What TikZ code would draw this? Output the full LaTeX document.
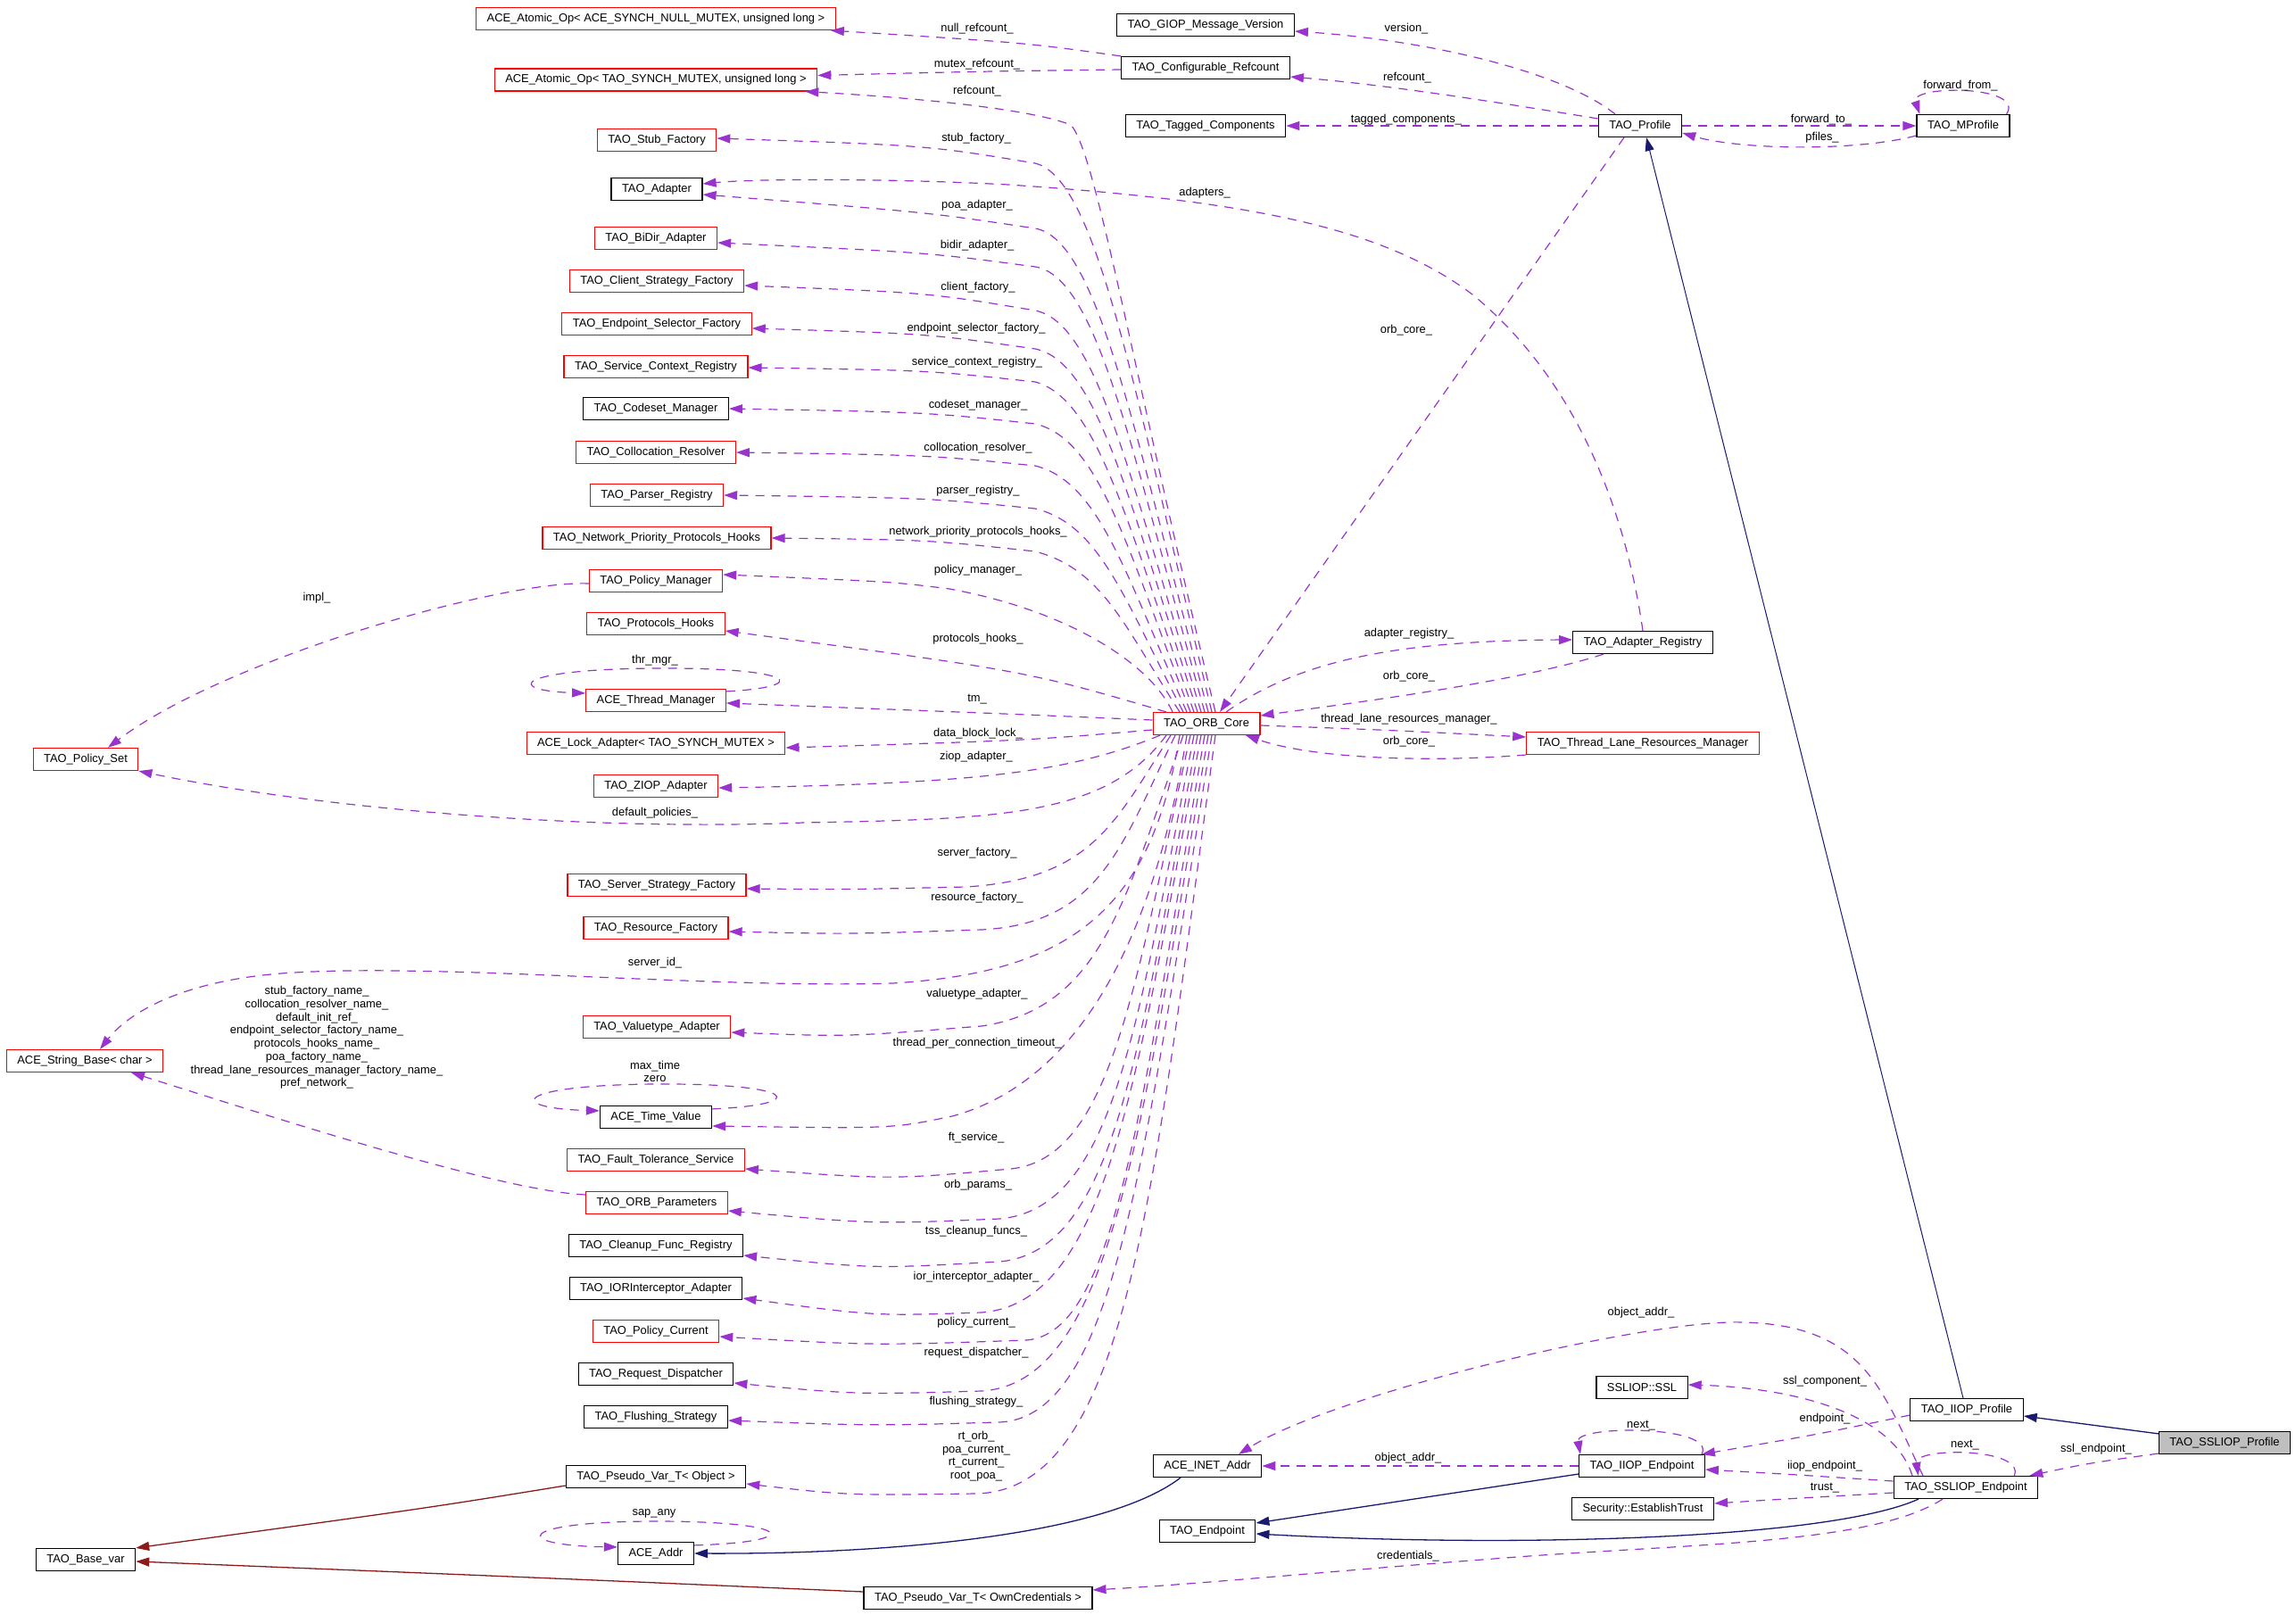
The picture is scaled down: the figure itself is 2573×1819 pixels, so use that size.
\documentclass[tikz,border=0pt]{standalone}
\usepackage{fontspec}
\setmainfont{Liberation Sans}
\usepackage{tikz}
\usetikzlibrary{arrows.meta}
\definecolor{memberc}{HTML}{9A32CD}
\definecolor{inhblue}{HTML}{191970}
\definecolor{privred}{HTML}{8B1A1A}
\definecolor{grey75}{HTML}{BFBFBF}

\begin{document}
\begin{tikzpicture}[x=1pt, y=-1pt,
  class node/.style={draw, rectangle, line width=1.2pt, minimum height=25pt, inner xsep=12pt, inner ysep=0pt, font=\fontsize{12.9}{14.7}\selectfont},
  red node/.style={class node, draw=red},
  mlabel/.style={inner sep=0pt, align=center, font=\fontsize{12.9}{14.7}\selectfont},
  uses/.style={memberc, line width=1.2pt, dash pattern=on 10pt off 8pt, -{Triangle[length=15pt,width=10pt]}},
  inherit/.style={inhblue, line width=1.3pt, -{Triangle[length=15pt,width=10pt]}},
  priv inherit/.style={privred, line width=1.3pt, -{Triangle[length=15pt,width=10pt]}}]
\useasboundingbox (0,0) rectangle (2573,1819);

\node[red node] (atomicnull) at (735,21) {ACE\_Atomic\_Op< ACE\_SYNCH\_NULL\_MUTEX, unsigned long >};
\node[red node] (atomicmutex) at (735,89.5) {ACE\_Atomic\_Op< TAO\_SYNCH\_MUTEX, unsigned long >};
\node[red node] (stubfactory) at (736,157) {TAO\_Stub\_Factory};
\node[class node] (adapter) at (736,212) {TAO\_Adapter};
\node[red node] (bidir) at (735,267) {TAO\_BiDir\_Adapter};
\node[red node] (clientstrat) at (736,315) {TAO\_Client\_Strategy\_Factory};
\node[red node] (epselector) at (736,363) {TAO\_Endpoint\_Selector\_Factory};
\node[red node] (servicectx) at (735,411) {TAO\_Service\_Context\_Registry};
\node[class node] (codeset) at (735,458) {TAO\_Codeset\_Manager};
\node[red node] (colloc) at (735,507) {TAO\_Collocation\_Resolver};
\node[red node] (parser) at (736,555) {TAO\_Parser\_Registry};
\node[red node] (netprio) at (736,603) {TAO\_Network\_Priority\_Protocols\_Hooks};
\node[red node] (policymgr) at (735,651) {TAO\_Policy\_Manager};
\node[red node] (protohooks) at (735,699) {TAO\_Protocols\_Hooks};
\node[red node] (thrmgr) at (735,785) {ACE\_Thread\_Manager};
\node[red node] (lockadapter) at (735,833) {ACE\_Lock\_Adapter< TAO\_SYNCH\_MUTEX >};
\node[red node] (ziop) at (735,881) {TAO\_ZIOP\_Adapter};
\node[red node] (serverstrat) at (736,992) {TAO\_Server\_Strategy\_Factory};
\node[red node] (resfactory) at (735,1040) {TAO\_Resource\_Factory};
\node[red node] (valuetype) at (736,1151) {TAO\_Valuetype\_Adapter};
\node[class node] (timevalue) at (735,1252) {ACE\_Time\_Value};
\node[red node] (faulttol) at (735,1300) {TAO\_Fault\_Tolerance\_Service};
\node[red node] (orbparams) at (736,1348) {TAO\_ORB\_Parameters};
\node[class node] (cleanup) at (735,1396) {TAO\_Cleanup\_Func\_Registry};
\node[class node] (iorinterc) at (735,1444) {TAO\_IORInterceptor\_Adapter};
\node[red node] (policycur) at (735,1492) {TAO\_Policy\_Current};
\node[class node] (reqdisp) at (735,1540) {TAO\_Request\_Dispatcher};
\node[class node] (flushing) at (735,1588) {TAO\_Flushing\_Strategy};
\node[class node] (pseudoobj) at (735,1655) {TAO\_Pseudo\_Var\_T< Object >};
\node[class node] (aceaddr) at (735,1741) {ACE\_Addr};

\node[red node] (policyset) at (96,851) {TAO\_Policy\_Set};
\node[red node] (stringbase) at (95,1189) {ACE\_String\_Base< char >};
\node[class node] (basevar) at (96,1748) {TAO\_Base\_var};

\node[red node] (core) at (1352,811) {TAO\_ORB\_Core};
\node[class node] (giop) at (1351,28) {TAO\_GIOP\_Message\_Version};
\node[class node] (confrefcount) at (1351,76) {TAO\_Configurable\_Refcount};
\node[class node] (tagged) at (1351,141) {TAO\_Tagged\_Components};
\node[class node] (inetaddr) at (1353,1643) {ACE\_INET\_Addr};
\node[class node] (endpoint) at (1353,1716) {TAO\_Endpoint};
\node[class node] (pseudocred) at (1096,1791) {TAO\_Pseudo\_Var\_T< OwnCredentials >};

\node[class node] (profile) at (1838,141) {TAO\_Profile};
\node[class node] (mprofile) at (2200,141) {TAO\_MProfile};
\node[class node] (adapterreg) at (1841,720) {TAO\_Adapter\_Registry};
\node[red node] (tlrm) at (1841,833) {TAO\_Thread\_Lane\_Resources\_Manager};
\node[class node] (sslcomp) at (1840,1555) {SSLIOP::SSL};
\node[class node] (iiopendpoint) at (1840,1643) {TAO\_IIOP\_Endpoint};
\node[class node] (trust) at (1841,1691) {Security::EstablishTrust};
\node[class node] (iiopprofile) at (2204,1580) {TAO\_IIOP\_Profile};
\node[class node] (sslendpoint) at (2203,1667) {TAO\_SSLIOP\_Endpoint};
\node[class node, fill=grey75] (sslprofile) at (2493,1617) {TAO\_SSLIOP\_Profile};

% inheritance
\draw[inherit, line width=1pt] ([xshift=-4pt]iiopprofile.north) -- ([xshift=7pt]profile.south);
\draw[inherit] ([yshift=-3pt]sslprofile.north west) -- ([yshift=-7pt]iiopprofile.east);
\draw[inherit] ([yshift=-9pt]iiopendpoint.west) -- ([yshift=9pt]endpoint.east);
\draw[inherit] ([xshift=-53pt]sslendpoint.south) .. controls (2050,1725) and (1700,1735) .. ([yshift=-3pt]endpoint.east);
\draw[inherit] ([xshift=-30pt]inetaddr.south) .. controls (1240,1720) and (1000,1742) .. (aceaddr.east);
\draw[priv inherit] ([yshift=-10pt]pseudoobj.west) .. controls (480,1690) .. (basevar.north east);
\draw[priv inherit] ([yshift=7pt]pseudocred.west) .. controls (600,1768) .. ([yshift=-2pt]basevar.east);

% members, right part
\draw[uses] ([yshift=-12pt]sslprofile.west) .. controls (2340,1640) .. ([xshift=-10pt]sslendpoint.north east);
\draw[uses] ([yshift=-6pt]iiopprofile.west) .. controls (2040,1607) .. ([xshift=-4pt]iiopendpoint.north east);
\draw[uses] ([xshift=-60pt]sslendpoint.north) .. controls (2120,1580) and (2000,1555) .. ([yshift=3pt]sslcomp.east);
\draw[uses] ([xshift=-48pt]sslendpoint.north) .. controls (2110,1560) and (2090,1485) .. (1953,1482) .. controls (1850,1478) and (1500,1560) .. ([xshift=35pt]inetaddr.north);
\draw[uses] (iiopendpoint.west) -- (inetaddr.east);
\draw[uses] ([yshift=7pt]sslendpoint.west) .. controls (2000,1652) .. ([yshift=-4pt]iiopendpoint.east);
\draw[uses] ([yshift=-6pt]sslendpoint.west) .. controls (2000,1680) .. ([yshift=6pt]trust.east);
\draw[uses] ([xshift=-26pt]sslendpoint.south) .. controls (2100,1730) and (1900,1730) .. (1700,1745) .. controls (1500,1760) and (1350,1775) .. ([yshift=9pt]pseudocred.east);
\draw[uses] ([xshift=-4pt]iiopendpoint.north east) .. controls (1925,1597) and (1765,1597) .. ([xshift=2pt]iiopendpoint.north west);
\draw[uses] ([xshift=-27pt]sslendpoint.north east) .. controls (2270,1622) and (2145,1622) .. ([xshift=28pt]sslendpoint.north west);

\draw[uses] ([xshift=-4pt]mprofile.north east) .. controls (2270,95) and (2140,95) .. ([xshift=4pt]mprofile.north west);
\draw[uses] ([xshift=-28pt]profile.north) .. controls (1750,80) and (1600,45) .. ([yshift=-7pt]giop.east);
\draw[uses] ([yshift=8pt]profile.west) .. controls (1650,110) and (1550,95) .. ([yshift=-10pt]confrefcount.east);
\draw[uses] (profile.west) -- (tagged.east);
\draw[uses] (profile.east) -- (mprofile.west);
\draw[uses] ([yshift=-11pt]mprofile.west) .. controls (2080,170) and (1950,168) .. ([yshift=-8pt]profile.east);
\draw[uses] ([xshift=-18pt]profile.south) -- ([xshift=15pt]core.north);
\draw[uses] (confrefcount.north west) .. controls (1150,48) .. ([xshift=-6pt]atomicnull.south east);
\draw[uses] ([yshift=-2pt]confrefcount.west) .. controls (1100,80) .. ([yshift=5pt]atomicmutex.east);

\draw[uses] (adapterreg.north) .. controls (1820,560) and (1760,420) .. (1650,330) .. controls (1550,255) and (1400,225) .. (1130,207) .. controls (1000,200) and (850,200) .. ([yshift=6pt]adapter.east);
\draw[uses] ([xshift=22pt]core.north) .. controls (1450,745) and (1550,718) .. ([yshift=3pt]adapterreg.west);
\draw[uses] ([xshift=-44pt]adapterreg.south) .. controls (1700,765) and (1500,790) .. ([yshift=9pt]core.east);
\draw[uses] ([yshift=-2pt]core.east) .. controls (1550,818) .. ([yshift=7pt]tlrm.west);
\draw[uses] ([yshift=-13pt]tlrm.west) .. controls (1600,855) and (1470,850) .. ([xshift=44pt]core.south);

% members, left part
\draw[uses] ([yshift=-3pt]policymgr.west) .. controls (560,650) and (250,740) .. ([xshift=25pt]policyset.north);
\draw[uses] ([xshift=-45pt]core.south) .. controls (1240,915) and (1120,918) .. (900,922) .. controls (650,932) and (350,905) .. (policyset.south east);
\draw[uses] ([xshift=-30pt]core.south) .. controls (1290,1020) and (1200,1090) .. (1000,1102) .. controls (800,1108) and (500,1080) .. (330,1090) .. controls (220,1096) and (150,1128) .. ([xshift=17pt]stringbase.north);
\draw[uses] ([yshift=9pt]orbparams.west) .. controls (560,1335) and (300,1250) .. ([xshift=52pt]stringbase.south);
\draw[uses] ([yshift=-3pt]thrmgr.north east) .. controls (910,770) and (895,748) .. (735,749) .. controls (575,750) and (565,774) .. ([yshift=-5pt]thrmgr.north west);
\draw[uses] ([yshift=-4pt]timevalue.north east) .. controls (910,1238) and (895,1214) .. (735,1215) .. controls (575,1216) and (565,1242) .. ([yshift=-6pt]timevalue.north west);
\draw[uses] ([yshift=-4pt]aceaddr.north east) .. controls (905,1728) and (890,1705) .. (735,1705) .. controls (578,1705) and (570,1732) .. ([yshift=-6pt]aceaddr.north west);

\draw[uses] ([xshift=10pt]core.north) .. controls (1268,409) and (1228,170) .. (1200,140) .. controls (1150,120) and (1000,108) .. ([xshift=-14pt]atomicmutex.south east);
\draw[uses] ([xshift=6pt]core.north) .. controls (1271,439) and (1230,200) .. (1160,183) .. controls (1040,163) .. ([yshift=2pt]stubfactory.east);
\draw[uses] ([xshift=2pt]core.north) .. controls (1270,480) and (1230,268) .. (1160,256) .. controls (1040,238) .. ([yshift=-6pt]adapter.east);
\draw[uses] ([xshift=-2pt]core.north) .. controls (1268,505) and (1230,310) .. (1160,299) .. controls (1040,283) .. ([yshift=-5pt]bidir.east);
\draw[uses] ([xshift=-6pt]core.north) .. controls (1266,536) and (1230,362) .. (1160,348) .. controls (1040,328) .. ([yshift=-5pt]clientstrat.east);
\draw[uses] ([xshift=-10pt]core.north) .. controls (1265,562) and (1230,405) .. (1160,391) .. controls (1040,374) .. ([yshift=-5pt]epselector.east);
\draw[uses] ([xshift=-14pt]core.north) .. controls (1263,587) and (1230,447) .. (1160,428) .. controls (1040,415) .. ([yshift=-1pt]servicectx.east);
\draw[uses] ([xshift=-18pt]core.north) .. controls (1263,614) and (1232,492) .. (1160,475) .. controls (1040,462) .. (codeset.east);
\draw[uses] ([xshift=-22pt]core.north) .. controls (1261,643) and (1232,540) .. (1160,522) .. controls (1040,510) .. (colloc.east);
\draw[uses] ([xshift=-26pt]core.north) .. controls (1260,672) and (1233,588) .. (1160,570) .. controls (1040,558) .. (parser.east);
\draw[uses] ([xshift=-30pt]core.north) .. controls (1260,702) and (1236,638) .. (1160,618) .. controls (1040,605) .. (netprio.east);
\draw[uses] ([xshift=-38pt]core.north) .. controls (1290,745) and (1200,685) .. (1064,660) .. controls (1000,652) .. ([yshift=7pt]policymgr.east);
\draw[uses] ([xshift=-45pt]core.north) .. controls (1150,752) .. ([yshift=-8pt]protohooks.east);
\draw[uses] ([yshift=4pt]core.west) .. controls (1128,800) .. ([yshift=-3pt]thrmgr.east);
\draw[uses] ([yshift=-7pt]core.west) .. controls (1150,830) .. ([yshift=-5pt]lockadapter.east);
\draw[uses] ([xshift=-52pt]core.south) .. controls (1200,865) and (1100,878) .. ([yshift=-2pt]ziop.east);

\draw[uses] ([xshift=-40pt]core.south) .. controls (1250,920) and (1225,985) .. (1083,994) .. controls (950,997) .. ([yshift=-4pt]serverstrat.east);
\draw[uses] ([xshift=-35pt]core.south) .. controls (1256,950) and (1232,1035) .. (1100,1042) .. controls (950,1047) .. ([yshift=-4pt]resfactory.east);
\draw[uses] ([xshift=-26pt]core.south) .. controls (1261,1007) and (1235,1130) .. (1100,1150) .. controls (950,1162) .. ([yshift=-6pt]valuetype.east);
\draw[uses] ([xshift=-22pt]core.south) .. controls (1290,1070) and (1200,1215) .. (1067,1251) .. controls (1000,1265) .. ([yshift=-10pt]timevalue.east);
\draw[uses] ([xshift=-18pt]core.south) .. controls (1271,1108) and (1245,1298) .. (1133,1310) .. controls (1000,1322) .. ([yshift=-10pt]faulttol.east);
\draw[uses] ([xshift=-14pt]core.south) .. controls (1275,1142) and (1250,1355) .. (1120,1366) .. controls (980,1372) .. ([yshift=-9pt]orbparams.east);
\draw[uses] ([xshift=-10pt]core.south) .. controls (1277,1171) and (1250,1403) .. (1120,1414) .. controls (980,1422) .. ([yshift=-11pt]cleanup.east);
\draw[uses] ([xshift=-6pt]core.south) .. controls (1274,1205) and (1242,1460) .. (1100,1471) .. controls (980,1475) .. ([yshift=-11pt]iorinterc.east);
\draw[uses] ([xshift=-2pt]core.south) .. controls (1281,1226) and (1252,1495) .. (1150,1502) .. controls (980,1508) .. ([yshift=-6pt]policycur.east);
\draw[uses] ([xshift=2pt]core.south) .. controls (1280,1259) and (1247,1550) .. (1100,1559) .. controls (960,1563) .. ([yshift=-10pt]reqdisp.east);
\draw[uses] ([xshift=6pt]core.south) .. controls (1284,1283) and (1252,1590) .. (1119,1594) .. controls (980,1598) .. ([yshift=-4pt]flushing.east);
\draw[uses] ([xshift=10pt]core.south) .. controls (1293,1331) and (1264,1670) .. (1094,1674) .. controls (950,1676) .. ([yshift=-8pt]pseudoobj.east);

% labels
\node[mlabel] (l1) at (1095,32) {null\_refcount\_};
\node[mlabel] (l2) at (1095,72) {mutex\_refcount\_};
\node[mlabel] (l3) at (1095,102) {refcount\_};
\node[mlabel] (l4) at (1094,155) {stub\_factory\_};
\node[mlabel] (l5) at (1095,230) {poa\_adapter\_};
\node[mlabel] (l6) at (1095,275) {bidir\_adapter\_};
\node[mlabel] (l7) at (1096,322) {client\_factory\_};
\node[mlabel] (l8) at (1094,368) {endpoint\_selector\_factory\_};
\node[mlabel] (l9) at (1095,406) {service\_context\_registry\_};
\node[mlabel] (l10) at (1096,454) {codeset\_manager\_};
\node[mlabel] (l11) at (1096,502) {collocation\_resolver\_};
\node[mlabel] (l12) at (1096,550) {parser\_registry\_};
\node[mlabel] (l13) at (1096,596) {network\_priority\_protocols\_hooks\_};
\node[mlabel] (l14) at (1096,639) {policy\_manager\_};
\node[mlabel] (l15) at (1096,716) {protocols\_hooks\_};
\node[mlabel] (l16) at (1095,784) {tm\_};
\node[mlabel] (l17) at (1096,822) {data\_block\_lock\_};
\node[mlabel] (l18) at (1094,848) {ziop\_adapter\_};
\node[mlabel] (l19) at (734,911) {default\_policies\_};
\node[mlabel] (l20) at (1095,956) {server\_factory\_};
\node[mlabel] (l21) at (1095,1006) {resource\_factory\_};
\node[mlabel] (l22) at (734,1079) {server\_id\_};
\node[mlabel] (l23) at (1095,1114) {valuetype\_adapter\_};
\node[mlabel] (l24) at (1095,1169) {thread\_per\_connection\_timeout\_};
\node[mlabel] (l25) at (1094,1275) {ft\_service\_};
\node[mlabel] (l26) at (1096,1328) {orb\_params\_};
\node[mlabel] (l27) at (1094,1380) {tss\_cleanup\_funcs\_};
\node[mlabel] (l28) at (1094,1431) {ior\_interceptor\_adapter\_};
\node[mlabel] (l29) at (1094,1482) {policy\_current\_};
\node[mlabel] (l30) at (1094,1516) {request\_dispatcher\_};
\node[mlabel] (l31) at (1094,1571) {flushing\_strategy\_};
\node[mlabel] (l32) at (1094,1632) {rt\_orb\_\\poa\_current\_\\rt\_current\_\\root\_poa\_};
\node[mlabel] (l33) at (1576,32) {version\_};
\node[mlabel] (l34) at (1577,87) {refcount\_};
\node[mlabel] (l35) at (1576,134) {tagged\_components\_};
\node[mlabel] (l36) at (2041,134) {forward\_to\_};
\node[mlabel] (l37) at (2042,154) {pfiles\_};
\node[mlabel] (l38) at (2197,96) {forward\_from\_};
\node[mlabel] (l39) at (1350,216) {adapters\_};
\node[mlabel] (l40) at (1576,370) {orb\_core\_};
\node[mlabel] (l41) at (1579,710) {adapter\_registry\_};
\node[mlabel] (l42) at (1579,758) {orb\_core\_};
\node[mlabel] (l43) at (1579,806) {thread\_lane\_resources\_manager\_};
\node[mlabel] (l44) at (1579,831) {orb\_core\_};
\node[mlabel] (l45) at (355,670) {impl\_};
\node[mlabel] (l46) at (734,740) {thr\_mgr\_};
\node[mlabel] (l47) at (355,1163) {stub\_factory\_name\_\\collocation\_resolver\_name\_\\default\_init\_ref\_\\endpoint\_selector\_factory\_name\_\\protocols\_hooks\_name\_\\poa\_factory\_name\_\\thread\_lane\_resources\_manager\_factory\_name\_\\pref\_network\_};
\node[mlabel] (l48) at (734,1201) {max\_time\\zero};
\node[mlabel] (l49) at (733,1696) {sap\_any};
\node[mlabel] (l50) at (1839,1471) {object\_addr\_};
\node[mlabel] (l51) at (2045,1548) {ssl\_component\_};
\node[mlabel] (l52) at (2045,1590) {endpoint\_};
\node[mlabel] (l53) at (1839,1598) {next\_};
\node[mlabel] (l54) at (1578,1634) {object\_addr\_};
\node[mlabel] (l55) at (2202,1620) {next\_};
\node[mlabel] (l56) at (2349,1624) {ssl\_endpoint\_};
\node[mlabel] (l57) at (2045,1643) {iiop\_endpoint\_};
\node[mlabel] (l58) at (2045,1668) {trust\_};
\node[mlabel] (l59) at (1578,1744) {credentials\_};
\end{tikzpicture}
\end{document}
